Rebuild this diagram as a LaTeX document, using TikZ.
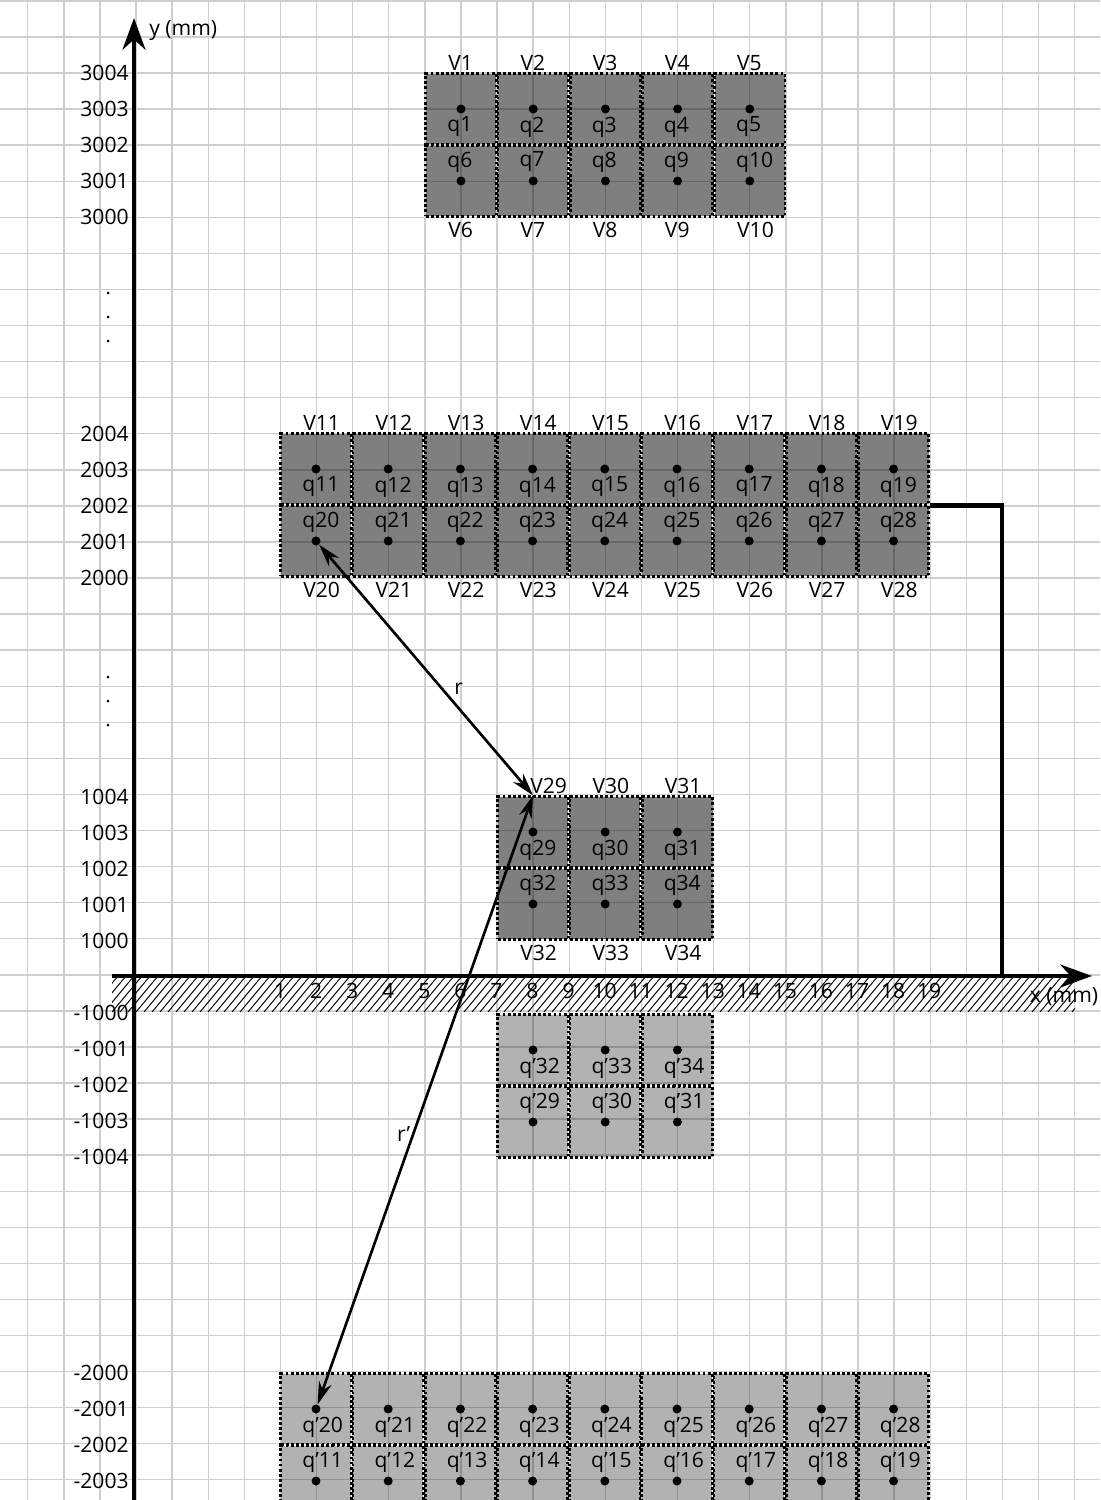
\documentclass[tikz,border=0pt]{standalone}
\usepackage{fontspec}
\setmainfont{Open Sans}
\usetikzlibrary{arrows.meta}
\usetikzlibrary{positioning}

\tikzset{
  every node/.style={font=\fontsize{12}{14}\selectfont},
  gridline/.style={black!19, line width=0.8pt},
  cellbox/.style={draw, line width=1.6pt, dash pattern=on 1.6pt off 1.3pt, fill=black, minimum width=1.41cm, minimum height=1.41cm, inner sep=0pt},
  darkcell/.style={cellbox, fill opacity=0.5},
  lightcell/.style={cellbox, fill opacity=0.3},
  dot/.style={circle, fill=black, inner sep=0pt, minimum size=0.18cm},
  vdot/.style={circle, fill=black, inner sep=0pt, minimum size=0.06cm},
  qlabel/.style={anchor=west, inner sep=0pt},
  vlabel/.style={anchor=west, inner sep=0pt},
  ytick/.style={anchor=east, inner sep=0pt},
  xtick/.style={inner sep=0pt},
  axis/.style={line width=2.8pt, -{Stealth[length=18pt, width=13pt]}},
  hatch/.style={line width=0.55pt},
  link/.style={line width=2.5pt},
  rline/.style={line width=1.5pt, {Stealth[length=13pt, width=7.5pt]}-{Stealth[length=13pt, width=7.5pt]}},
}

% one row of cells: first no., last index, x of first dot, y of dots, style, name prefix, text, label shift
\newcommand{\cellrow}[8]{%
  \foreach \k [count=\n from #1] in {0,...,#2} {
    \node[#5] (#6c\n) at ({#3+72.2*\k},#4) {};
    \node[dot] (#6q\n) at ({#3+72.2*\k},#4) {};
    \node[qlabel] (#6l\n) at ({#3+72.2*\k-14},{#4+#8}) {#7\n};
  }}
% one row of V labels: first no., last index, x of first dot, y
\newcommand{\vrow}[4]{%
  \foreach \k [count=\n from #1] in {0,...,#2}
    \node[vlabel] (v\n) at ({#3+72.2*\k-13},#4) {V\n};}

\begin{document}
\begin{tikzpicture}[x=0.02cm, y=-0.02cm]
\useasboundingbox (0,0) rectangle (1100,1500);

\foreach \i in {0,...,29} \draw[gridline] ({27.7+36.1*\i},0) -- ({27.7+36.1*\i},1500);
\foreach \j in {0,...,41} \draw[gridline] (0,{0.9+36.07*\j}) -- (1100,{0.9+36.07*\j});

\begin{scope}
  \clip (112,976) rectangle (1075,1012);
  \foreach \h in {0,...,125} \draw[hatch] ({80+8*\h},1012) -- ++(30,-36);
\end{scope}

\cellrow{1}{4}{461}{109}{darkcell}{}{q}{18}
\cellrow{6}{4}{461}{181}{darkcell}{}{q}{-19}
\cellrow{11}{8}{316}{469}{darkcell}{}{q}{18}
\cellrow{20}{8}{316}{541}{darkcell}{}{q}{-19}
\cellrow{29}{2}{533}{832}{darkcell}{}{q}{18}
\cellrow{32}{2}{533}{904}{darkcell}{}{q}{-19}

\cellrow{32}{2}{533}{1050}{lightcell}{m}{q’}{18}
\cellrow{29}{2}{533}{1122}{lightcell}{m}{q’}{-19}
\cellrow{20}{8}{316}{1409}{lightcell}{m}{q’}{18}
\cellrow{11}{8}{316}{1481}{lightcell}{m}{q’}{-19}

\vrow{1}{4}{461}{63}
\vrow{6}{4}{461}{230}
\vrow{11}{8}{316}{423}
\vrow{20}{8}{316}{590}
\node[vlabel] (v29) at (530,786) {V29};
\vrow{30}{1}{605.2}{786}
\vrow{32}{2}{533}{953}

\foreach \v/\y [count=\i] in {3004/73,3003/109,3002/145,3001/181,3000/217,
    2004/434,2003/470,2002/506,2001/542,2000/578,
    1004/797,1003/833,1002/869,1001/905,1000/941,
    -1000/1013,-1001/1049,-1002/1085,-1003/1121,-1004/1157,
    -2000/1373,-2001/1409,-2002/1445,-2003/1481}
  \node[ytick] (ty\i) at (129,\y) {\v};
\foreach \d in {293,317,341,677,701,725} \node[vdot] (e\d) at (108,\d) {};
\foreach \i in {1,...,19} \node[xtick] (tx\i) at ({244+36.06*\i},991) {\i};

\coordinate (ybot) at (134,1500);
\coordinate (ytop) at (134,18);
\coordinate (xleft) at (112,976);
\coordinate (xright) at (1092,976);
\coordinate (xjoin) at (1002,976);
\draw[axis] (ybot) -- (ytop);
\draw[axis] (xleft) -- (xright);
\node[anchor=west, inner sep=0pt] (ylab) at (149,31) {y (mm)};
\node[inner sep=0pt] (xlab) at (1064,997) {x (mm)};

\draw[link] (c19.south east) -| (xjoin);

\draw[rline] (q20) -- node[pos=0.573, anchor=west, inner sep=0pt, xshift=6.5pt] (rlab) {r} (c29.north);
\draw[rline] (c29.north) -- node[pos=0.556, anchor=east, inner sep=0pt, xshift=-1pt] (rplab) {r’} (mq20);
\end{tikzpicture}
\end{document}
